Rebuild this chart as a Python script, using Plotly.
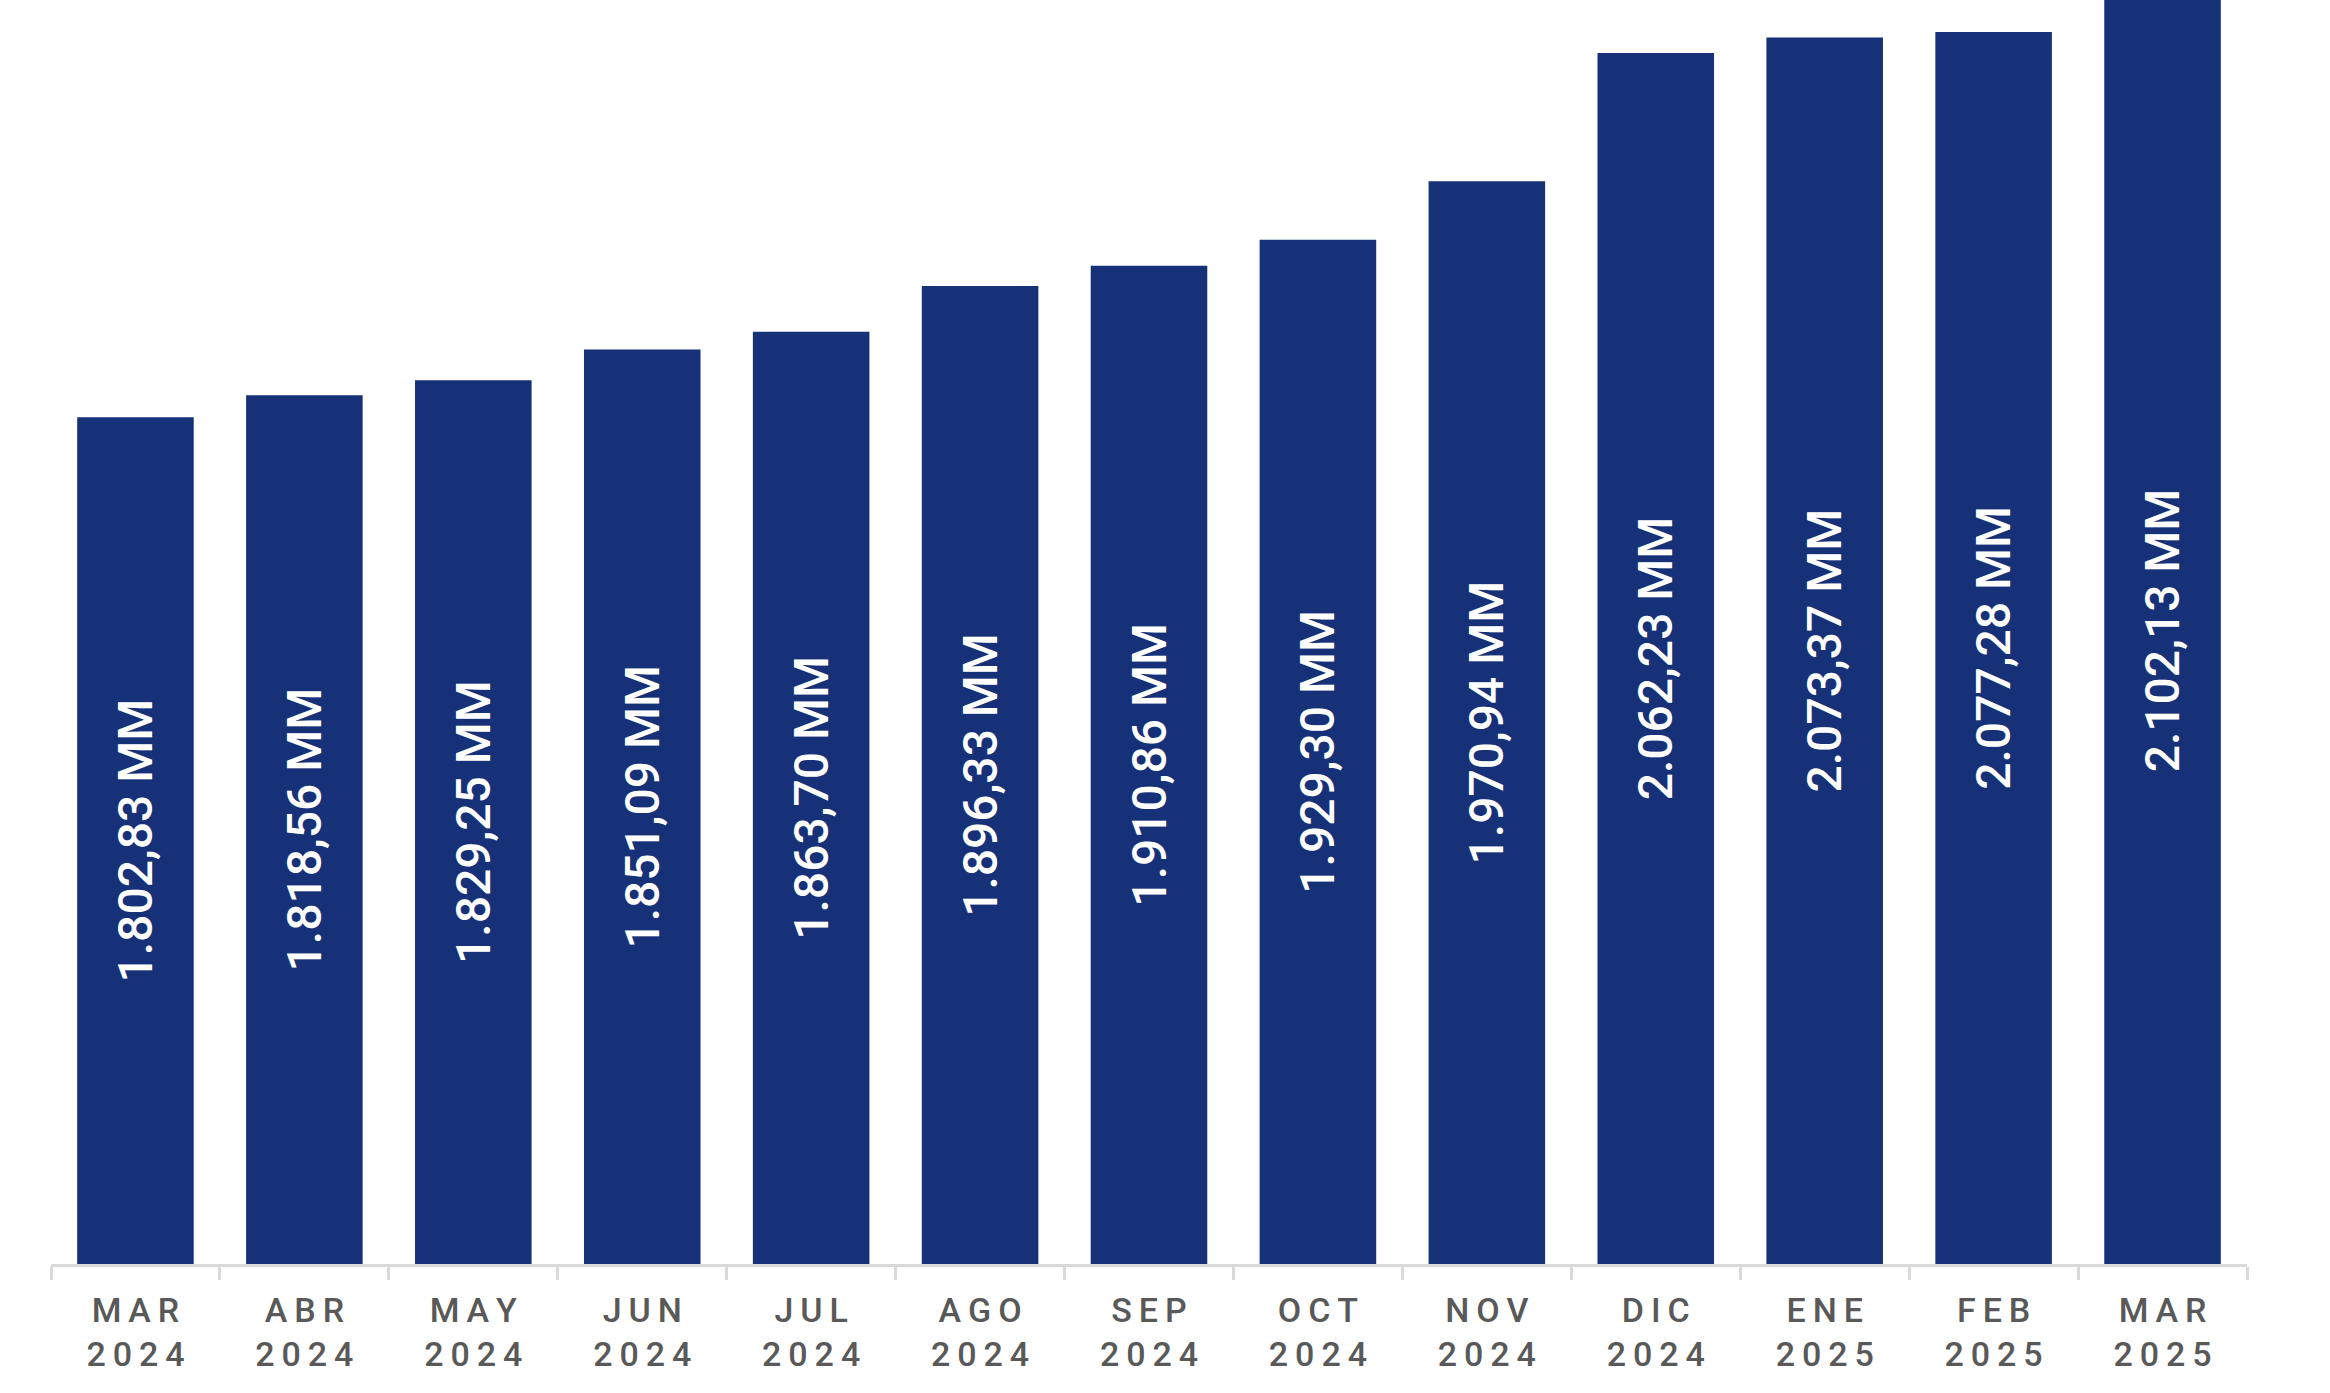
import plotly.graph_objects as go

months = ["MAR", "ABR", "MAY", "JUN", "JUL", "AGO", "SEP", "OCT", "NOV", "DIC", "ENE", "FEB", "MAR"]
years = ["2024"] * 10 + ["2025"] * 3
values = [1802.83, 1818.56, 1829.25, 1851.09, 1863.70, 1896.33, 1910.86,
          1929.30, 1970.94, 2062.23, 2073.37, 2077.28, 2102.13]
axis_min = 1200
axis_max = 2100

def spaced(s):
    return "\u2009".join(s)

def fmt(v):
    s = f"{v:,.2f}"
    return s.replace(",", "X").replace(".", ",").replace("X", ".") + " MM"

cats = [f"{m}-{y}" for m, y in zip(months, years)]
ticktext = [spaced(m) + "<br>" + spaced(y) for m, y in zip(months, years)]
labels = [fmt(v) for v in values]

fig = go.Figure(go.Bar(
    x=cats, y=[v - axis_min for v in values], base=[axis_min] * len(values),
    marker=dict(color="#173178", line=dict(width=0)),
    text=labels, textposition="inside", textangle=-90,
    insidetextanchor="middle",
    textfont=dict(family="Roboto", size=48, color="white", weight=500),
    hoverinfo="skip",
))

fig.update_layout(
    width=2330, height=1393,
    margin=dict(l=51, r=83, t=0, b=129),
    paper_bgcolor="white", plot_bgcolor="white",
    bargap=0.31, showlegend=False,
)
fig.update_xaxes(
    tickmode="array", tickvals=cats, ticktext=ticktext,
    tickfont=dict(family="Roboto", size=34, color="#595959", weight=500),
    showline=True, linecolor="#d9d9d9", linewidth=3,
    ticks="outside", tickson="boundaries", ticklen=13, tickwidth=3, tickcolor="#d9d9d9",
    ticklabelstandoff=14,
    showgrid=False,
)
fig.update_yaxes(range=[axis_min, axis_max], visible=False, showgrid=False)

fig.write_html("out.html", config={"displayModeBar": False},
               post_script="document.body.style.margin='0';document.body.style.overflow='hidden';")
